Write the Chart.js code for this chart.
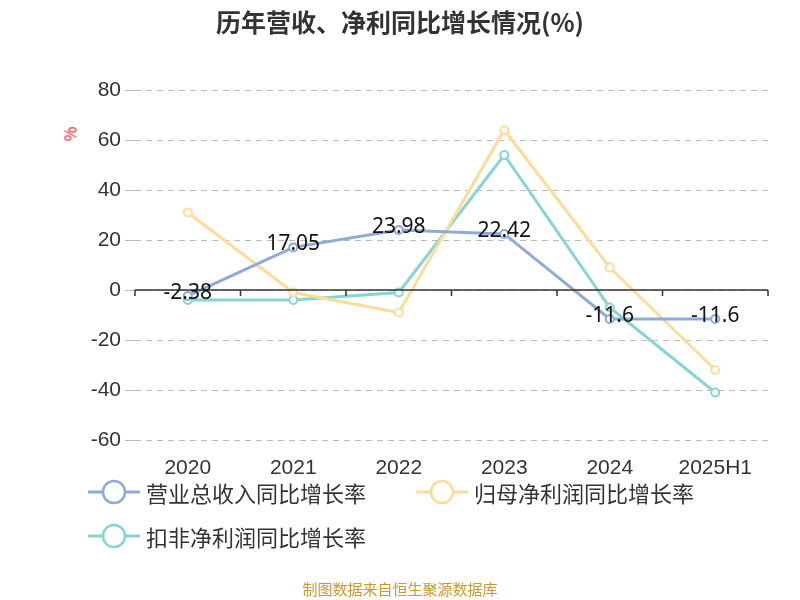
<!DOCTYPE html>
<html><head><meta charset="utf-8">
<script src="https://cdn.jsdelivr.net/npm/chart.js@4"></script>
<style>
body{margin:0;width:800px;height:600px;position:relative;font-family:"Noto Sans CJK SC","Noto Sans",sans-serif;background:#fff;overflow:hidden}
#c{position:absolute;left:0;top:0}
.t{position:absolute;white-space:nowrap}
.lg{position:absolute;font-size:22px;color:#333;display:flex;align-items:center}
.lg svg{margin-right:6px}
</style></head><body>
<canvas id="c" width="800" height="600"></canvas>
<div class="t" style="left:0;width:800px;text-align:center;top:3px;font-size:25px;font-weight:bold;color:#333">历年营收、净利同比增长情况(%)</div>
<div class="t" style="left:62px;top:122px;font-size:16px;color:#e01010;transform:rotate(-90deg)">%</div>
<div class="lg" style="left:88px;top:476px"><svg width="52" height="30"><line x1="0" y1="15" x2="52" y2="15" stroke="#8eaad8" stroke-width="3"/><circle cx="26" cy="15" r="11" fill="#fff" stroke="#8eaad8" stroke-width="2.5"/></svg>营业总收入同比增长率</div>
<div class="lg" style="left:416px;top:476px"><svg width="52" height="30"><line x1="0" y1="15" x2="52" y2="15" stroke="#fddc9a" stroke-width="3"/><circle cx="26" cy="15" r="11" fill="#fff" stroke="#fddc9a" stroke-width="2.5"/></svg>归母净利润同比增长率</div>
<div class="lg" style="left:88px;top:520px"><svg width="52" height="30"><line x1="0" y1="15" x2="52" y2="15" stroke="#86d4d4" stroke-width="3"/><circle cx="26" cy="15" r="11" fill="#fff" stroke="#86d4d4" stroke-width="2.5"/></svg>扣非净利润同比增长率</div>
<div class="t" style="left:0;width:800px;text-align:center;top:578px;font-size:15px;color:#c89a30">制图数据来自恒生聚源数据库</div>
<script>
const categories=["2020","2021","2022","2023","2024","2025H1"];
const revenue=[-2.38,17.05,23.98,22.42,-11.6,-11.6];
const netProfit=[31,-1,-9,64,9,-32];
const deducted=[-4,-4,-1,54,-7,-41];
const yTicks=[80,60,40,20,0,-20,-40,-60];
const zeroAxis={id:'z',afterDraw(ch){const c=ch.ctx,x=ch.scales.x,y=ch.scales.y,y0=y.getPixelForValue(0);
c.save();c.strokeStyle='#333';c.lineWidth=1.5;c.beginPath();c.moveTo(ch.chartArea.left,y0);c.lineTo(ch.chartArea.right,y0);
const n=categories.length,w=(ch.chartArea.right-ch.chartArea.left)/n;
for(let i=0;i<=n;i++){const px=ch.chartArea.left+i*w;c.moveTo(px,y0);c.lineTo(px,y0+6);}c.stroke();
c.fillStyle='#111';c.font='21px "Noto Sans","DejaVu Sans",sans-serif';c.textAlign='center';c.textBaseline='middle';
const m=ch.getDatasetMeta(0);m.data.forEach((p,i)=>c.fillText(String(revenue[i]),p.x,p.y-3));c.restore();}};
const ds=(l,d,col)=>({label:l,data:d,borderColor:col,backgroundColor:'#fff',pointBackgroundColor:'#fff',pointBorderColor:col,pointBorderWidth:2,pointRadius:4,borderWidth:3,tension:0});
new Chart(document.getElementById('c'),{type:'line',data:{labels:categories,datasets:[ds('营业总收入同比增长率',revenue,'#8eaad8'),ds('归母净利润同比增长率',netProfit,'#fddc9a'),ds('扣非净利润同比增长率',deducted,'#86d4d4')]},
options:{responsive:false,animation:false,layout:{padding:{top:90,right:32,left:0,bottom:0}},
plugins:{legend:{display:false},tooltip:{enabled:false}},
scales:{x:{offset:true,grid:{display:false},border:{display:false},ticks:{color:'#333',font:{size:21},padding:8},afterFit(s){s.height=160;}},
y:{min:-60,max:80,afterBuildTicks(s){s.ticks=yTicks.map(v=>({value:v}));},afterFit(s){s.width=135;},border:{display:false,dash:[6,5]},
grid:{color:'#bbb',drawTicks:true,tickLength:10,tickColor:'#bbb'},ticks:{color:'#333',font:{size:21},padding:4}}}},
plugins:[zeroAxis]});
</script></body></html>
